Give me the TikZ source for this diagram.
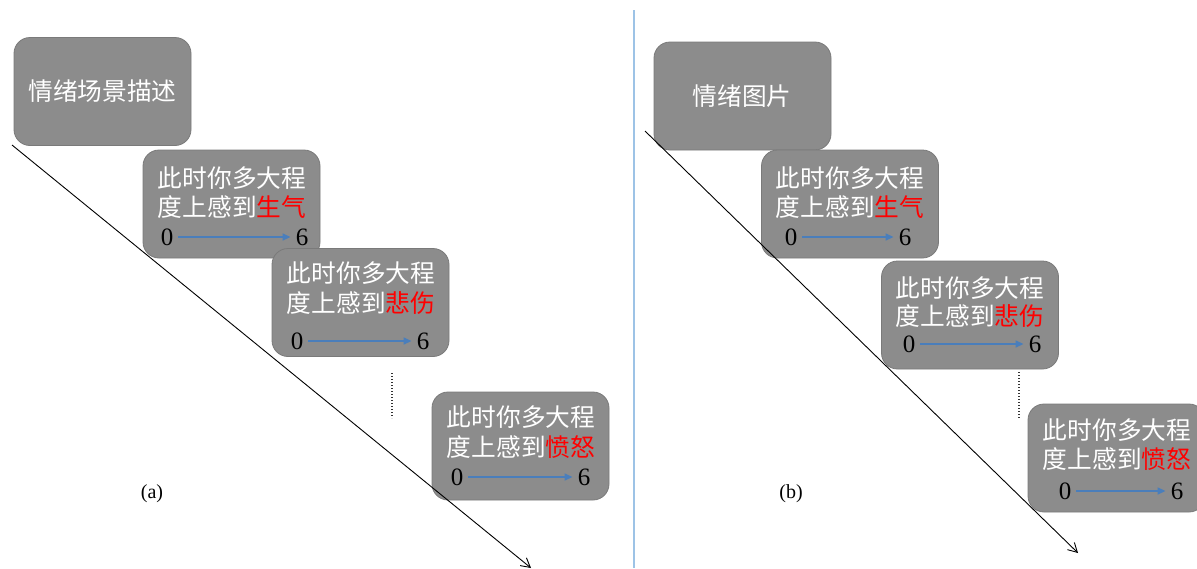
\documentclass[tikz,border=0pt]{standalone}
\usepackage{fontspec}
\setmainfont{Liberation Serif}
\newfontfamily\cjk{Noto Sans CJK SC}
\usetikzlibrary{arrows.meta}
\definecolor{boxgray}{HTML}{8C8C8C}
\definecolor{boxedge}{HTML}{7A7A7A}
\definecolor{scaleblue}{HTML}{4A7EBB}
\definecolor{divblue}{HTML}{9DC3E6}
\tikzset{
  card/.style={rounded corners=16pt, fill=boxgray, draw=boxedge, line width=0.8pt,
    minimum width=177pt, minimum height=108pt, inner sep=0pt},
  cjktext/.style={text=white, font=\cjk\fontsize{24.7}{28}\selectfont, inner sep=0pt, anchor=center},
  numtext/.style={text=black, font=\fontsize{25}{28}\selectfont, inner sep=0pt, anchor=center},
  scalearrow/.style={draw=scaleblue, line width=1.4pt, -{Triangle[length=8pt,width=7pt]}},
  timeline/.style={draw=black, line width=0.9pt, -{Straight Barb[length=9pt,width=10pt]}},
  ellipsisline/.style={draw=black!80, line width=1.4pt, dash pattern=on 1.2pt off 1.8pt},
  sublabel/.style={font=\fontsize{20}{24}\selectfont, inner sep=0pt},
}
\begin{document}
\begin{tikzpicture}[x=1pt,y=-1pt]
\useasboundingbox (0,0) rectangle (1197,568);

% ---------- panel (a) ----------
\node[card] (a0) at (102.5,91.5) {};
\node[cjktext] (a0t) at (102.5,91) {情绪场景描述};

\node[card] (a1) at (231.5,204) {};
\node[cjktext] (a1l1) at (232,178) {此时你多大程};
\node[cjktext] (a1l2) at (232,207) {度上感到\textcolor{red}{生气}};
\node[numtext] (a1n0) at (167,237) {0};
\node[numtext] (a1n6) at (302,237) {6};
\draw[scalearrow, shorten <=5pt, shorten >=5pt] (a1n0.east) -- (a1n6.west);

\node[card] (a2) at (360.5,302.5) {};
\node[cjktext] (a2l1) at (361,273) {此时你多大程};
\node[cjktext] (a2l2) at (361,303) {度上感到\textcolor{red}{悲伤}};
\node[numtext] (a2n0) at (297,341) {0};
\node[numtext] (a2n6) at (423,341) {6};
\draw[scalearrow, shorten <=5pt, shorten >=5pt] (a2n0.east) -- (a2n6.west);

\node[card] (a3) at (520.5,446) {};
\node[cjktext] (a3l1) at (521,417) {此时你多大程};
\node[cjktext] (a3l2) at (521,447) {度上感到\textcolor{red}{愤怒}};
\node[numtext] (a3n0) at (457,477) {0};
\node[numtext] (a3n6) at (584,477) {6};
\draw[scalearrow, shorten <=5pt, shorten >=5pt] (a3n0.east) -- (a3n6.west);

\coordinate (ta0) at (12,145);
\coordinate (ta1) at (531,568);
\draw[timeline] (ta0) -- (ta1);

\coordinate (da0) at (392,373);
\coordinate (da1) at (392,418);
\draw[ellipsisline] (da0) -- (da1);

\node[sublabel] (la) at (152,494) {(a)};

% ---------- divider ----------
\coordinate (v0) at (634,10);
\coordinate (v1) at (634,568);
\draw[divblue, line width=1.2pt] (v0) -- (v1);

% ---------- panel (b) ----------
\node[card] (b0) at (742.5,96) {};
\node[cjktext] (b0t) at (742,96) {情绪图片};

\node[card] (b1) at (850,204) {};
\node[cjktext] (b1l1) at (850,178) {此时你多大程};
\node[cjktext] (b1l2) at (850,207) {度上感到\textcolor{red}{生气}};
\node[numtext] (b1n0) at (791,237) {0};
\node[numtext] (b1n6) at (905,237) {6};
\draw[scalearrow, shorten <=5pt, shorten >=5pt] (b1n0.east) -- (b1n6.west);

\node[card] (b2) at (970,315) {};
\node[cjktext] (b2l1) at (970,288) {此时你多大程};
\node[cjktext] (b2l2) at (970,316) {度上感到\textcolor{red}{悲伤}};
\node[numtext] (b2n0) at (909,344) {0};
\node[numtext] (b2n6) at (1035,344) {6};
\draw[scalearrow, shorten <=5pt, shorten >=5pt] (b2n0.east) -- (b2n6.west);

\node[card] (b3) at (1116.5,458) {};
\node[cjktext] (b3l1) at (1117,430) {此时你多大程};
\node[cjktext] (b3l2) at (1117,459) {度上感到\textcolor{red}{愤怒}};
\node[numtext] (b3n0) at (1065,491) {0};
\node[numtext] (b3n6) at (1177,491) {6};
\draw[scalearrow, shorten <=5pt, shorten >=5pt] (b3n0.east) -- (b3n6.west);

\coordinate (tb0) at (645,131);
\coordinate (tb1) at (1078,553);
\draw[timeline] (tb0) -- (tb1);

\coordinate (db0) at (1019,372);
\coordinate (db1) at (1019,418);
\draw[ellipsisline] (db0) -- (db1);

\node[sublabel] (lb) at (791,494) {(b)};
\end{tikzpicture}
\end{document}
